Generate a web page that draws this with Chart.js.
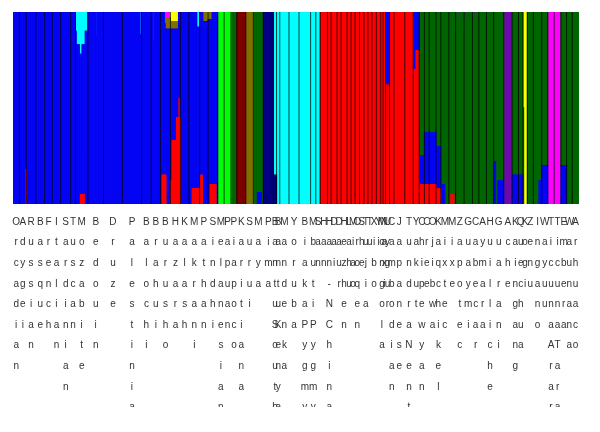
<!DOCTYPE html>
<html>
<head>
<meta charset="utf-8">
<script src="https://cdn.jsdelivr.net/npm/chart.js@4.4.0/dist/chart.umd.min.js"></script>
<style>
  html, body { margin: 0; padding: 0; background: #fff; }
  #wrap { width: 600px; height: 432px; }
</style>
</head>
<body>
<div id="wrap"><canvas id="structure"></canvas></div>
<script>
// populations, left to right
const populations = [
  'Orcadian', 'Adygei', 'Russian', 'Basque', 'French', 'Italian', 'Sardinian', 'Tuscan',
  'Mozabite', 'Bedouin', 'Druze', 'Palestinian',
  'Balochi', 'Brahui', 'Burusho', 'Hazara', 'Kalash', 'Makrani', 'Pathan', 'Sindhi',
  'Melanesian', 'Papuan',
  'Piapoco', 'Karitiana', 'Surui', 'Maya', 'Pima',
  'Bantu South Africa', 'Bantu Kenya', 'Mandenka', 'Yoruba', 'Biaka Pygmy', 'Mbuti Pygmy', 'San',
  'Han', 'Han-NChina', 'Dai', 'Daur', 'Hezhen', 'Lahu', 'Miao', 'Oroqen', 'She', 'Tujia', 'Tu',
  'Xibo', 'Yi', 'Mongola', 'Naxi', 'Uygur', 'Cambodian', 'Japanese', 'Tundra Nentsi', 'Yakut',
  'Chipewyan', 'Cree', 'Ojibwa', 'Kaqchikel', 'Mixtec', 'Mixe', 'Zapotec', 'Guaymi', 'Cabecar',
  'Aymara', 'Huilliche', 'Guarani', 'Ache', 'Kaingang', 'Quechua', 'Kogi', 'Zenu', 'Ingano',
  'Wayuu', 'Ticuna Arara', 'Ticuna Tarapaca', 'Embera', 'Waunana', 'Arhuaco'
];

// individuals per population
const sampleSizes = [
  16, 17, 24, 22, 19, 21, 25, 12,
  31, 39, 47, 48,
  24, 23, 25, 25, 21, 27, 21, 24,
  16, 17,
  15, 22, 19, 25, 25,
  8, 8, 23, 25, 29, 13, 11,
  18, 9, 15, 10, 15, 10, 10, 11, 11, 10, 10,
  11, 11, 6, 6, 10, 11, 27, 21, 15,
  13, 12, 17, 12, 20, 17, 21, 21, 16,
  19, 18, 25, 21, 16, 11, 11, 15, 21,
  15, 16, 17, 14, 14, 17
];

// clusters, bottom of the stack first
const clusterNames = ['red', 'blue', 'lime', 'maroon', 'olive', 'navy', 'green', 'purple', 'yellow', 'magenta', 'cyan'];
const clusterColors = ['#ff0000', '#0606f4', '#00ff00', '#7d0000', '#807000', '#000080', '#006600', '#6e0aaa', '#ffff00', '#ff00ff', '#00ffff'];

// cluster that takes the remaining share of each population
const mainCluster = [
  'blue', 'blue', 'blue', 'blue', 'blue', 'blue', 'blue', 'blue',
  'blue', 'blue', 'blue', 'blue',
  'blue', 'blue', 'blue', 'blue', 'blue', 'blue', 'blue', 'blue',
  'lime', 'lime',
  'green', 'maroon', 'olive', 'green', 'navy',
  'cyan', 'cyan', 'cyan', 'cyan', 'cyan', 'cyan', 'cyan',
  'red', 'red', 'red', 'red', 'red', 'red', 'red', 'red', 'red', 'red', 'red',
  'red', 'red', 'red', 'red', 'red', 'red', 'red', 'red', 'red',
  'green', 'green', 'green', 'green', 'green', 'green', 'green', 'green', 'green',
  'green', 'green', 'green', 'purple', 'green', 'green', 'yellow', 'green', 'green',
  'green', 'magenta', 'magenta', 'green', 'green', 'green'
];

// [population, cluster, share, first individual, number of individuals]
const admixture = [
  ['Adygei', 'red', 0.18, 16, 1],
  ['Mozabite', 'cyan', 0.10, 0],
  ['Mozabite', 'cyan', 0.17, 2, 22],
  ['Mozabite', 'cyan', 0.22, 10, 6],
  ['Mozabite', 'cyan', 0.73, 13, 2],
  ['Mozabite', 'cyan', 0.45, 20, 1],
  ['Mozabite', 'red', 0.05, 12, 10],
  ['Bedouin', 'cyan', 0.13, 20, 2],
  ['Palestinian', 'cyan', 0.12, 44, 3],
  ['Brahui', 'cyan', 0.15, 5, 2],
  ['Burusho', 'red', 0.15, 4, 10],
  ['Burusho', 'olive', 0.06, 10],
  ['Burusho', 'magenta', 0.03, 12],
  ['Hazara', 'red', 0.12, 0, 4],
  ['Hazara', 'red', 0.33, 4, 11],
  ['Hazara', 'red', 0.45, 15],
  ['Hazara', 'red', 0.55, 21, 1],
  ['Hazara', 'yellow', 0.05, 0, 20],
  ['Hazara', 'olive', 0.04, 0, 20],
  ['Makrani', 'red', 0.08, 8],
  ['Makrani', 'cyan', 0.08, 20],
  ['Pathan', 'red', 0.15, 2, 5],
  ['Pathan', 'olive', 0.05, 8],
  ['Sindhi', 'red', 0.10, 5, 15],
  ['Sindhi', 'olive', 0.04, 0, 10],
  ['Maya', 'blue', 0.06, 10, 10],
  ['Bantu South Africa', 'navy', 0.15, 0],
  ['Uygur', 'blue', 0.38, 0],
  ['Uygur', 'blue', 0.60, 4, 3],
  ['Yakut', 'blue', 0.20, 0],
  ['Yakut', 'blue', 0.30, 0, 7],
  ['Yakut', 'blue', 0.68, 2, 1],
  ['Chipewyan', 'blue', 0.15, 0],
  ['Chipewyan', 'red', 0.10, 0],
  ['Cree', 'blue', 0.27, 0],
  ['Cree', 'red', 0.10, 0],
  ['Ojibwa', 'blue', 0.27, 0],
  ['Ojibwa', 'red', 0.10, 0],
  ['Kaqchikel', 'blue', 0.22, 0],
  ['Kaqchikel', 'red', 0.08, 0],
  ['Mixtec', 'blue', 0.10, 0, 10],
  ['Mixe', 'red', 0.05, 5, 8],
  ['Mixe', 'purple', 0.03, 0, 4],
  ['Zapotec', 'purple', 0.03, 6, 4],
  ['Guaymi', 'purple', 0.03, 0, 5],
  ['Cabecar', 'purple', 0.03, 4, 4],
  ['Guarani', 'blue', 0.22, 0, 5],
  ['Guarani', 'blue', 0.12, 10],
  ['Kaingang', 'blue', 0.15, 0],
  ['Quechua', 'blue', 0.15, 0],
  ['Kogi', 'green', 0.5, 0, 2],
  ['Ingano', 'blue', 0.12, 14],
  ['Wayuu', 'blue', 0.20, 0],
  ['Embera', 'blue', 0.20, 0]
];

// one bar per individual
const popStart = [];
let total = 0;
sampleSizes.forEach(n => { popStart.push(total); total += n; });

const individuals = [];
populations.forEach((name, p) => {
  for (let j = 0; j < sampleSizes[p]; j++) individuals.push({ pop: p, q: {} });
});

admixture.forEach(([name, cluster, share, first = 0, count]) => {
  const p = populations.indexOf(name);
  const last = count === undefined ? sampleSizes[p] : Math.min(sampleSizes[p], first + count);
  for (let j = first; j < last; j++) individuals[popStart[p] + j].q[cluster] = share;
});

individuals.forEach(ind => {
  const main = mainCluster[ind.pop];
  let rest = 0;
  Object.keys(ind.q).forEach(k => { if (k !== main) rest += ind.q[k]; });
  ind.q[main] = 1 - rest;
});

const datasets = clusterNames.map((c, k) => ({
  label: c,
  data: individuals.map(ind => ind.q[c] ? ind.q[c] : null),
  backgroundColor: clusterColors[k],
  borderWidth: 0,
  barPercentage: 1,
  categoryPercentage: 1,
  inflateAmount: 0.5,
  stack: 'q'
}));

// black lines between populations
const popSeparators = {
  id: 'popSeparators',
  afterDatasetsDraw(chart) {
    const { ctx, chartArea, scales: { x } } = chart;
    ctx.save();
    ctx.strokeStyle = 'rgba(0,0,0,0.75)';
    ctx.lineWidth = 1;
    popStart.forEach((s, i) => {
      if (i === 0) return;
      const px = x.getPixelForValue(s - 0.5);
      ctx.beginPath();
      ctx.moveTo(px, chartArea.top);
      ctx.lineTo(px, chartArea.bottom);
      ctx.stroke();
    });
    ctx.restore();
  }
};

// population names written downwards, one letter per row; the bottom is cut off
const popLabels = {
  id: 'popLabels',
  afterDraw(chart) {
    const { ctx, scales: { x } } = chart;
    ctx.save();
    ctx.beginPath();
    ctx.rect(0, chart.chartArea.bottom + 1, chart.width, 406 - chart.chartArea.bottom);
    ctx.clip();
    ctx.font = '10px "Liberation Sans", Arial, sans-serif';
    ctx.fillStyle = '#333';
    ctx.textAlign = 'center';
    ctx.textBaseline = 'middle';
    populations.forEach((name, p) => {
      const cx = x.getPixelForValue(popStart[p] + (sampleSizes[p] - 1) / 2);
      const letters = name.replace(/\s+/g, '').split('');
      letters.forEach((ch, r) => {
        ctx.fillText(ch, cx, 222 + r * 20.6);
      });
    });
    ctx.restore();
  }
};

new Chart(document.getElementById('structure'), {
  type: 'bar',
  data: {
    labels: individuals.map(ind => populations[ind.pop]),
    datasets: datasets
  },
  options: {
    responsive: true,
    maintainAspectRatio: false,
    animation: false,
    events: [],
    layout: { padding: { left: 13, top: 12, right: 21, bottom: 228 } },
    plugins: {
      legend: { display: false },
      tooltip: { enabled: false }
    },
    scales: {
      x: { stacked: true, display: false },
      y: { stacked: true, display: false, min: 0, max: 1 }
    }
  },
  plugins: [popSeparators, popLabels]
});
</script>
</body>
</html>
